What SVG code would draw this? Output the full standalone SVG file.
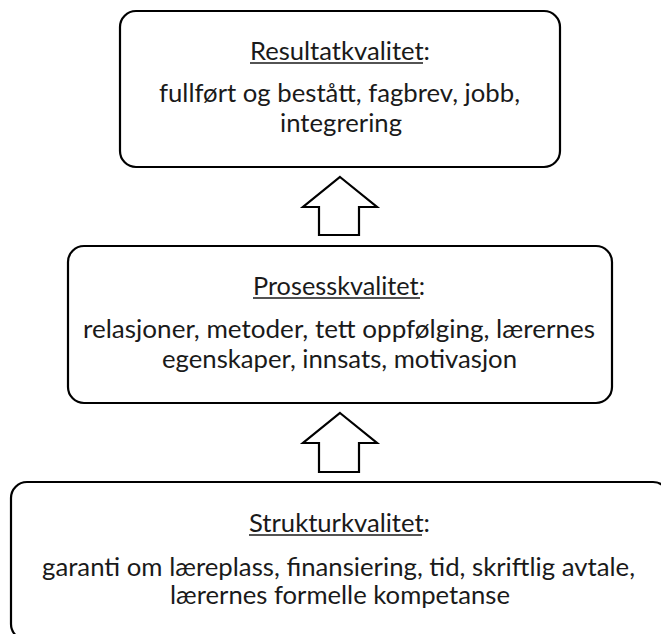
<svg xmlns="http://www.w3.org/2000/svg" width="661" height="634" viewBox="0 0 661 634">
<style>
.box{fill:#fff;stroke:#000;stroke-width:2.2}
.arrow{fill:#fff;stroke:#000;stroke-width:2.2;stroke-linejoin:miter}
.t{font-family:Lato,"Open Sans","Liberation Sans",sans-serif;font-size:25px;fill:#1a1a1a;text-anchor:middle}
.ul{stroke:#1a1a1a;stroke-width:1.4}
</style>
<rect width="661" height="634" fill="#fff"/>
<g id="connectors">
<polygon class="arrow" points="340,177 377,207 359,207 359,235 319,235 319,207 303,207"/>
<polygon class="arrow" points="340,413 377,443 359,443 359,472 319,472 319,443 303,443"/>
</g>
<g id="resultatkvalitet">
<rect class="box" x="120" y="11" width="440" height="156" rx="16"/>
<text class="t" x="340" y="60" textLength="180" lengthAdjust="spacingAndGlyphs">Resultatkvalitet:</text>
<line class="ul" x1="250" y1="63" x2="423" y2="63"/>
<text class="t" x="339.5" y="102" textLength="361" lengthAdjust="spacingAndGlyphs">fullført og bestått, fagbrev, jobb,</text>
<text class="t" x="341" y="132" textLength="122" lengthAdjust="spacingAndGlyphs">integrering</text>
</g>
<g id="prosesskvalitet">
<rect class="box" x="68" y="246" width="544" height="157" rx="16"/>
<text class="t" x="339" y="295" textLength="172" lengthAdjust="spacingAndGlyphs">Prosesskvalitet:</text>
<line class="ul" x1="253" y1="298" x2="420" y2="298"/>
<text class="t" x="339" y="338" textLength="512" lengthAdjust="spacingAndGlyphs">relasjoner, metoder, tett oppfølging, lærernes</text>
<text class="t" x="339.5" y="368" textLength="355" lengthAdjust="spacingAndGlyphs">egenskaper, innsats, motivasjon</text>
</g>
<g id="strukturkvalitet">
<rect class="box" x="11" y="482" width="658" height="158" rx="16"/>
<text class="t" x="339.5" y="532" textLength="181" lengthAdjust="spacingAndGlyphs">Strukturkvalitet:</text>
<line class="ul" x1="249" y1="535" x2="422" y2="535"/>
<text class="t" x="338.5" y="576" textLength="593" lengthAdjust="spacingAndGlyphs">garanti om læreplass, finansiering, tid, skriftlig avtale,</text>
<text class="t" x="340" y="604" textLength="340" lengthAdjust="spacingAndGlyphs">lærernes formelle kompetanse</text>
</g>
</svg>
